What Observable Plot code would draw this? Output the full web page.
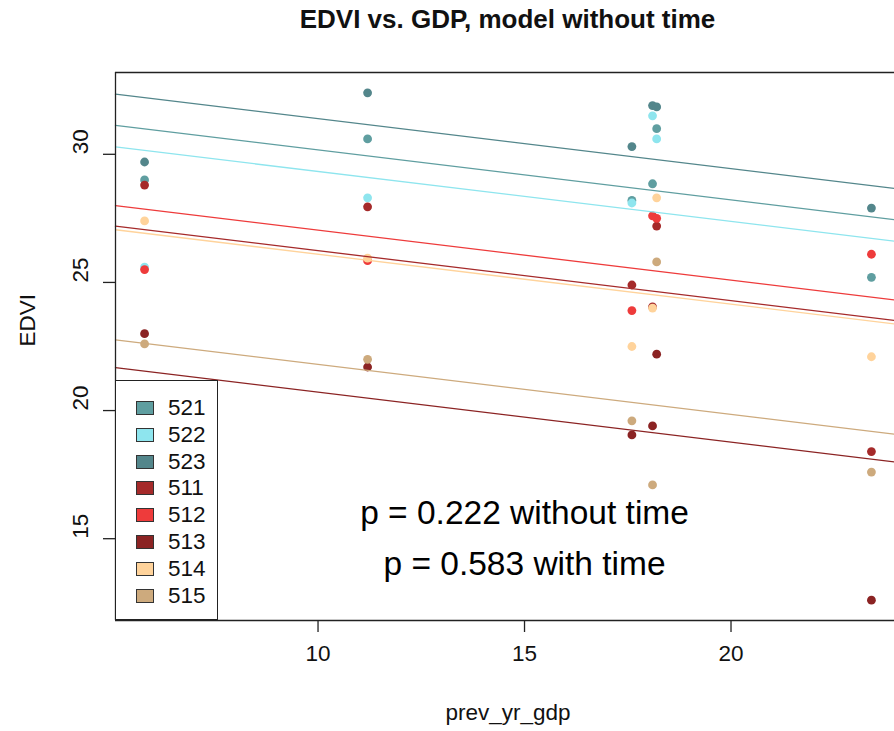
<!DOCTYPE html>
<html>
<head>
<meta charset="utf-8">
<script src="https://cdn.jsdelivr.net/npm/d3@7"></script>
<script src="https://cdn.jsdelivr.net/npm/@observablehq/plot@0.6"></script>
<style>
  html, body { margin: 0; padding: 0; background: #fff; }
  body { width: 894px; height: 731px; position: relative; overflow: hidden;
         font-family: "Liberation Sans", Arial, sans-serif; color: #222; }
  #title { position: absolute; top: 0; left: 507.5px; transform: translateX(-50%);
           height: 45px; line-height: 38px; white-space: nowrap;
           font-weight: bold; font-size: 26px; color: #111; }
  #chart { position: absolute; top: 45px; left: 0; }
  #legend { position: absolute; left: 115px; top: 380px; width: 103px; height: 240px;
            box-sizing: border-box; border: 1.3px solid #222; background: #fff; }
  .row { position: absolute; left: 0; height: 26px; display: flex; align-items: center; }
  .sw { position: absolute; left: 20px; width: 16px; height: 12px; border: 1.5px solid #333; }
  .lab { position: absolute; left: 52px; font-size: 22.5px; color: #111; white-space: nowrap; }
</style>
</head>
<body>
<div id="title"></div>
<div id="chart"></div>
<div id="legend"></div>
<script>
// ---- data ----
const titleText = "EDVI vs. GDP, model without time";
const xLabel = "prev_yr_gdp";
const yLabel = "EDVI";
const groups = ["521", "522", "523", "511", "512", "513", "514", "515"];
const colors = ["#5F9EA0", "#8EE5EE", "#53868B", "#A52A2A", "#EE3B3B", "#8B2323", "#FFD39B", "#CDAA7D"];
const xVals   = [5.8, 11.2, 17.6, 18.1, 18.2, 23.4];
const edvi521 = [29.0, 30.6, 28.2, 28.85, 31.0, 25.2];
const edvi522 = [25.6, 28.3, 28.1, 31.5, 30.6, null];
const edvi523 = [29.7, 32.4, 30.3, 31.9, 31.85, 27.9];
const edvi511 = [28.8, 27.95, 24.9, 24.05, 27.2, 18.4];
const edvi512 = [25.5, 25.85, 23.9, 27.6, 27.5, 26.1];
const edvi513 = [23.0, 21.7, 19.05, 19.4, 22.2, 12.6];
const edvi514 = [27.4, 25.95, 22.5, 24.0, 28.3, 22.1];
const edvi515 = [22.6, 22.0, 19.6, 17.1, 25.8, 17.6];
// fitted model (common slope, one intercept per group)
const slope = -0.195;
const intercepts = [32.12, 31.28, 33.34, 28.19, 28.99, 22.67, 28.05, 23.75];
const xTicks = [10, 15, 20];
const yTicks = [15, 20, 25, 30];
const annotTexts = ["p = 0.222 without time", "p = 0.583 with time"];
const annotX = [15, 15];
const annotY = [16, 14];

// ---- build tables ----
const series = [edvi521, edvi522, edvi523, edvi511, edvi512, edvi513, edvi514, edvi515];
const points = [];
groups.forEach((g, gi) => {
  series[gi].forEach((v, i) => { if (v != null) points.push({group: g, x: xVals[i], y: v}); });
});
// R's default axis range: data extent expanded by 4%
function rDomain(vals) {
  const [lo, hi] = d3.extent(vals);
  const pad = (hi - lo) * 0.04;
  return [lo - pad, hi + pad];
}
const xDom = rDomain(points.map(d => d.x));
const yDom = rDomain(points.map(d => d.y));
const lines = [];
groups.forEach((g, gi) => {
  xDom.forEach(x => lines.push({group: g, x, y: intercepts[gi] + slope * x}));
});
const annots = annotTexts.map((t, i) => ({t, x: annotX[i], y: annotY[i]}));
const colorOf = Object.fromEntries(groups.map((g, i) => [g, colors[i]]));

const frameColor = "#222";
const fs = 22.5;
const chart = Plot.plot({
  width: 894,
  height: 686,
  marginTop: 27,
  marginBottom: 111,
  marginLeft: 115,
  marginRight: -6,
  style: {fontFamily: "'Liberation Sans', Arial, sans-serif", fontSize: fs + "px", color: "#222", background: "#fff"},
  x: {domain: xDom},
  y: {domain: yDom},
  marks: [
    Plot.dot(points, {x: "x", y: "y", r: 4.4, fill: d => colorOf[d.group], stroke: "none"}),
    Plot.line(lines, {x: "x", y: "y", z: "group", stroke: d => colorOf[d.group], strokeWidth: 1.3}),
    Plot.ruleY([yDom[0], yDom[1]], {stroke: frameColor, strokeWidth: 1.3}),
    Plot.ruleX([xDom[0]], {stroke: frameColor, strokeWidth: 1.3}),
    Plot.axisX({ticks: xTicks, tickSize: 12, tickFormat: () => "", label: null, stroke: frameColor, strokeWidth: 1.3}),
    Plot.axisY({ticks: yTicks, tickSize: 12, tickFormat: () => "", label: null, stroke: frameColor, strokeWidth: 1.3}),
    Plot.text(xTicks, {x: d => d, text: d => String(d), frameAnchor: "bottom", dy: 40, fontSize: fs, fill: "#111"}),
    Plot.text(yTicks, {y: d => d, text: d => String(d), frameAnchor: "left", dx: -35, rotate: -90, fontSize: fs, fill: "#111"}),
    Plot.text([xLabel], {text: d => d, frameAnchor: "bottom", dy: 99, fontSize: fs, fill: "#111"}),
    Plot.text([yLabel], {text: d => d, frameAnchor: "left", dx: -88, rotate: -90, fontSize: fs, fill: "#111"}),
    Plot.text(annots, {x: "x", y: "y", text: "t", fontSize: 33.5, fill: "#000"})
  ]
});
document.getElementById("chart").appendChild(chart);
document.getElementById("title").textContent = titleText;

// legend
const leg = document.getElementById("legend");
groups.forEach((g, i) => {
  const row = document.createElement("div");
  row.className = "row";
  row.style.top = (14 + i * 26.8) + "px";
  const sw = document.createElement("div");
  sw.className = "sw";
  sw.style.background = colors[i];
  const lab = document.createElement("div");
  lab.className = "lab";
  lab.textContent = g;
  row.appendChild(sw);
  row.appendChild(lab);
  leg.appendChild(row);
});
</script>
</body>
</html>
